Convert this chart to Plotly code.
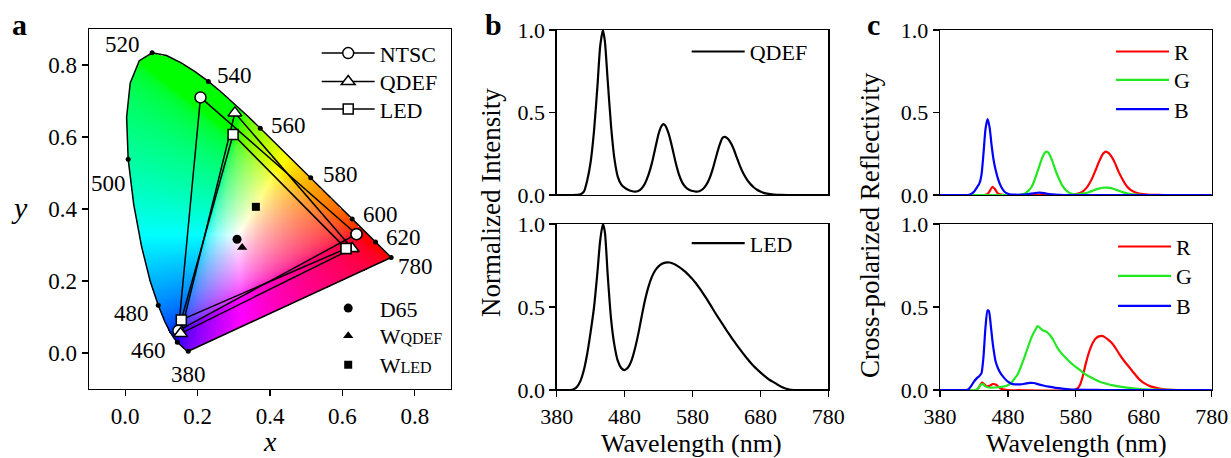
import numpy as np
import plotly.graph_objects as go

W, H = 1231, 458
SERIF = "Liberation Serif"

# ---------------- data: panel a (CIE 1931) ----------------
LOCUS_NM = [380, 385, 390, 395, 400, 405, 410, 415, 420, 425, 430, 435, 440, 445, 450, 455,
            460, 465, 470, 475, 480, 485, 490, 495, 500, 505, 510, 515, 520, 525, 530, 535,
            540, 545, 550, 555, 560, 565, 570, 575, 580, 585, 590, 595, 600, 605, 610, 615,
            620, 625, 630, 635, 640, 645, 650, 655, 660, 665, 670, 680, 690, 700, 780]
LOCUS_X = [0.1741, 0.1740, 0.1738, 0.1736, 0.1733, 0.1730, 0.1726, 0.1721, 0.1714, 0.1703,
           0.1689, 0.1669, 0.1644, 0.1611, 0.1566, 0.1510, 0.1440, 0.1355, 0.1241, 0.1096,
           0.0913, 0.0687, 0.0454, 0.0235, 0.0082, 0.0039, 0.0139, 0.0389, 0.0743, 0.1142,
           0.1547, 0.1929, 0.2296, 0.2658, 0.3016, 0.3373, 0.3731, 0.4087, 0.4441, 0.4788,
           0.5125, 0.5448, 0.5752, 0.6029, 0.6270, 0.6482, 0.6658, 0.6801, 0.6915, 0.7006,
           0.7079, 0.7140, 0.7190, 0.7230, 0.7260, 0.7283, 0.7300, 0.7311, 0.7320, 0.7334,
           0.7344, 0.7347, 0.7347]
LOCUS_Y = [0.0050, 0.0050, 0.0049, 0.0049, 0.0048, 0.0048, 0.0048, 0.0048, 0.0051, 0.0058,
           0.0069, 0.0086, 0.0109, 0.0138, 0.0177, 0.0227, 0.0297, 0.0399, 0.0578, 0.0868,
           0.1327, 0.2007, 0.2950, 0.4127, 0.5384, 0.6548, 0.7502, 0.8120, 0.8338, 0.8262,
           0.8059, 0.7816, 0.7543, 0.7243, 0.6923, 0.6589, 0.6245, 0.5896, 0.5547, 0.5202,
           0.4866, 0.4544, 0.4242, 0.3965, 0.3725, 0.3514, 0.3340, 0.3197, 0.3083, 0.2993,
           0.2920, 0.2859, 0.2809, 0.2770, 0.2740, 0.2717, 0.2700, 0.2689, 0.2680, 0.2666,
           0.2656, 0.2653, 0.2653]
LABEL_NM = [380, 460, 480, 500, 520, 540, 560, 580, 600, 620, 780]
LABEL_TX = [0.175, 0.064, 0.017, -0.047, -0.008, 0.303, 0.450, 0.594, 0.706, 0.769, 0.803]
LABEL_TY = [-0.061, 0.008, 0.111, 0.471, 0.856, 0.770, 0.632, 0.496, 0.385, 0.321, 0.241]

GAMUT_NAMES = ["NTSC", "QDEF", "LED"]
GAMUT_X = [[0.639, 0.208, 0.147], [0.627, 0.303, 0.153], [0.610, 0.298, 0.155]]
GAMUT_Y = [[0.330, 0.710, 0.062], [0.290, 0.667, 0.054], [0.290, 0.607, 0.092]]
GAMUT_SYMBOL = ["circle", "triangle-up", "square"]

WP_NAMES = ["D65", "W<span style='font-size:16px'>QDEF</span>", "W<span style='font-size:16px'>LED</span>"]
WP_X = [0.309, 0.323, 0.361]
WP_Y = [0.316, 0.293, 0.406]
WP_SYMBOL = ["circle", "triangle-up", "square"]

# ---------------- data: panel b (spectra) ----------------
QDEF_NM = [380, 400, 410, 415, 420, 425, 430, 435, 440, 444, 448, 451, 455, 460, 465, 470, 475,
           480, 485, 490, 495, 500, 505, 510, 515, 520, 525, 530, 534, 537, 540, 545, 550, 555,
           560, 565, 570, 575, 580, 585, 590, 595, 600, 605, 610, 615, 620, 624, 627, 631, 635,
           640, 645, 650, 655, 660, 665, 670, 675, 680, 685, 690, 700, 710, 720, 780]
QDEF_I = [0, 0, 0.001, 0.004, 0.02, 0.09, 0.2, 0.39, 0.66, 0.9, 1.0, 0.93, 0.7, 0.42, 0.22, 0.11,
          0.065, 0.045, 0.032, 0.024, 0.02, 0.024, 0.04, 0.07, 0.12, 0.19, 0.28, 0.37, 0.415,
          0.43, 0.42, 0.37, 0.29, 0.2, 0.125, 0.075, 0.047, 0.032, 0.024, 0.021, 0.023, 0.035,
          0.06, 0.1, 0.16, 0.235, 0.305, 0.345, 0.352, 0.345, 0.325, 0.285, 0.23, 0.175, 0.13,
          0.095, 0.068, 0.047, 0.032, 0.021, 0.013, 0.008, 0.003, 0.001, 0, 0]

LED_NM = [380, 400, 405, 410, 415, 420, 425, 430, 435, 440, 444, 448, 451, 455, 460, 465, 470,
          475, 480, 485, 490, 495, 500, 505, 510, 515, 520, 525, 530, 535, 540, 546, 550, 555,
          560, 565, 570, 575, 580, 585, 590, 595, 600, 605, 610, 615, 620, 625, 630, 635, 640,
          645, 650, 655, 660, 665, 670, 675, 680, 685, 690, 695, 700, 705, 710, 715, 720, 725,
          730, 780]
LED_I = [0, 0, 0.005, 0.02, 0.055, 0.12, 0.22, 0.35, 0.5, 0.71, 0.9, 1.0, 0.95, 0.7, 0.43, 0.27,
         0.175, 0.133, 0.12, 0.135, 0.175, 0.245, 0.335, 0.44, 0.54, 0.62, 0.68, 0.72, 0.745,
         0.76, 0.767, 0.768, 0.764, 0.755, 0.742, 0.727, 0.71, 0.69, 0.668, 0.643, 0.615,
         0.585, 0.555, 0.522, 0.488, 0.455, 0.423, 0.392, 0.36, 0.33, 0.3, 0.272, 0.245, 0.218,
         0.192, 0.167, 0.145, 0.125, 0.106, 0.088, 0.072, 0.057, 0.046, 0.033, 0.021, 0.012,
         0.005, 0.001, 0, 0]

# ---------------- data: panel c (reflectivity) ----------------
R1_NM = [380, 445, 450, 454, 457.5, 461, 465, 470, 475, 570, 578, 585, 590, 595, 600, 605, 610,
         615, 620, 624, 628, 633, 638, 643, 648, 653, 658, 663, 668, 675, 685, 700, 710, 780]
R1_V = [0, 0, 0.005, 0.03, 0.05, 0.035, 0.01, 0.002, 0, 0, 0.003, 0.01, 0.02, 0.04, 0.07, 0.11,
        0.16, 0.21, 0.25, 0.263, 0.255, 0.23, 0.19, 0.14, 0.1, 0.065, 0.04, 0.025, 0.015, 0.007,
        0.003, 0.001, 0, 0]
G1_NM = [380, 495, 500, 505, 510, 515, 520, 525, 530, 534, 537, 540, 545, 550, 555, 560, 565,
         570, 575, 580, 585, 590, 595, 600, 605, 610, 615, 620, 625, 630, 635, 640, 645, 650,
         655, 660, 670, 680, 780]
G1_V = [0, 0, 0.003, 0.01, 0.025, 0.05, 0.1, 0.16, 0.22, 0.255, 0.263, 0.255, 0.21, 0.15, 0.1,
        0.058, 0.03, 0.014, 0.006, 0.004, 0.005, 0.008, 0.012, 0.018, 0.026, 0.034, 0.04, 0.044,
        0.045, 0.043, 0.038, 0.031, 0.023, 0.016, 0.01, 0.006, 0.002, 0, 0]
B1_NM = [380, 420, 425, 430, 435, 438, 441, 444, 447, 450, 453, 456, 459, 462, 466, 470, 475,
         480, 485, 490, 500, 510, 520, 527, 535, 545, 555, 570, 780]
B1_V = [0, 0, 0.005, 0.02, 0.05, 0.07, 0.12, 0.25, 0.4, 0.46, 0.41, 0.3, 0.21, 0.15, 0.09, 0.05,
        0.02, 0.008, 0.003, 0.002, 0.002, 0.006, 0.012, 0.014, 0.01, 0.004, 0.001, 0, 0]

R2_NM = [380, 434, 437, 440, 442, 445, 449, 453, 458, 462, 466, 470, 475, 480, 578, 582, 586,
         590, 595, 600, 605, 610, 614, 618, 622, 627, 632, 638, 645, 652, 660, 667, 674, 680,
         690, 700, 710, 720, 730, 780]
R2_V = [0, 0, 0.015, 0.035, 0.044, 0.035, 0.022, 0.025, 0.036, 0.033, 0.02, 0.008, 0.002, 0, 0,
        0.008, 0.03, 0.08, 0.165, 0.235, 0.285, 0.313, 0.323, 0.326, 0.32, 0.305, 0.287, 0.255,
        0.21, 0.17, 0.13, 0.095, 0.062, 0.043, 0.022, 0.011, 0.004, 0.001, 0, 0]
G2_NM = [380, 432, 436, 440, 443, 447, 452, 460, 470, 478, 484, 490, 495, 500, 505, 510, 515,
         520, 523.8, 527, 531, 537, 542, 547, 552, 558, 566, 575, 586, 595, 605, 615, 625, 635,
         645, 655, 665, 675, 690, 710, 730, 780]
G2_V = [0, 0, 0.01, 0.032, 0.035, 0.022, 0.015, 0.015, 0.018, 0.025, 0.04, 0.07, 0.1, 0.15,
        0.205, 0.265, 0.32, 0.36, 0.385, 0.375, 0.36, 0.35, 0.33, 0.3, 0.26, 0.225, 0.19, 0.155,
        0.12, 0.092, 0.07, 0.05, 0.038, 0.028, 0.02, 0.014, 0.01, 0.006, 0.003, 0.001, 0, 0]
B2_NM = [380, 418, 422, 426, 430, 434, 438, 441, 444, 447, 450, 452, 455, 458, 462, 466, 470,
         475, 480, 485, 490, 498, 505, 512, 518, 525, 532, 540, 550, 560, 570, 580, 600, 620, 780]
B2_V = [0, 0, 0.005, 0.025, 0.05, 0.07, 0.085, 0.1, 0.2, 0.38, 0.48, 0.475, 0.38, 0.27, 0.17,
        0.125, 0.095, 0.07, 0.05, 0.038, 0.034, 0.034, 0.038, 0.043, 0.042, 0.034, 0.027, 0.02,
        0.013, 0.008, 0.004, 0.002, 0.001, 0, 0]

WL_TICKS = [380, 480, 580, 680, 780]
I_TICKS = [0.0, 0.5, 1.0]
CIE_TICKS = [0.0, 0.2, 0.4, 0.6, 0.8]


# ---------------- helpers ----------------
def px_x(p):
    return p / W


def px_y(p):
    return 1 - p / H


def inside_poly(px, py, vx, vy):
    res = np.zeros(px.shape, dtype=bool)
    n = len(vx)
    j = n - 1
    for i in range(n):
        xi, yi, xj, yj = vx[i], vy[i], vx[j], vy[j]
        cond = (yi > py) != (yj > py)
        denom = (yj - yi) if (yj - yi) != 0 else 1e-12
        xint = (xj - xi) * (py - yi) / denom + xi
        res ^= cond & (px < xint)
        j = i
    return res


# chromaticity background image
step = 0.0025
gx = np.arange(0.0, 0.745, step) + step / 2
gy = np.arange(0.0, 0.84, step) + step / 2
GX, GY = np.meshgrid(gx, gy)
mask = inside_poly(GX, GY, LOCUS_X, LOCUS_Y)
Xc = GX / GY
Zc = (1 - GX - GY) / GY
M = np.array([[3.2406, -1.5372, -0.4986], [-0.9689, 1.8758, 0.0415], [0.0557, -0.2040, 1.0570]])
rgb = np.stack([M[k, 0] * Xc + M[k, 1] + M[k, 2] * Zc for k in range(3)], axis=-1)
rgb = np.clip(rgb, 0, None)
rgb = rgb / np.maximum(rgb.max(axis=-1, keepdims=True), 1e-9)
rgb = np.clip(rgb, 0, 1) ** (1 / 2.2)
rgb8 = np.round(rgb * 255).astype(int)
rgb8[~mask] = 0
alpha = mask.astype(int)
rgba = np.concatenate([rgb8, alpha[..., None]], axis=-1)

fig = go.Figure()

fig.add_trace(go.Image(z=rgba.tolist(), colormodel="rgba", x0=float(gx[0]), y0=float(gy[0]),
                       dx=step, dy=step, xaxis="x", yaxis="y", hoverinfo="skip"))

# locus outline
fig.add_trace(go.Scatter(x=LOCUS_X + [LOCUS_X[0]], y=LOCUS_Y + [LOCUS_Y[0]], mode="lines",
                         line=dict(color="black", width=1.5), showlegend=False,
                         xaxis="x", yaxis="y", hoverinfo="skip"))
# labelled wavelength dots
lab_x = [LOCUS_X[LOCUS_NM.index(n)] for n in LABEL_NM]
lab_y = [LOCUS_Y[LOCUS_NM.index(n)] for n in LABEL_NM]
fig.add_trace(go.Scatter(x=lab_x, y=lab_y, mode="markers", marker=dict(color="black", size=5),
                         showlegend=False, xaxis="x", yaxis="y", hoverinfo="skip"))

legend_cfg = {}
leg_i = [0]


def new_legend(xp, yp, iw=53):
    leg_i[0] += 1
    name = "legend" if leg_i[0] == 1 else "legend%d" % leg_i[0]
    legend_cfg[name] = dict(x=px_x(xp), y=px_y(yp), xanchor="left", yanchor="middle",
                            bgcolor="rgba(0,0,0,0)", borderwidth=0, itemwidth=iw,
                            font=dict(family=SERIF, size=22, color="black"),
                            itemclick=False, itemdoubleclick=False)
    return name


gamut_rows = [53.3, 81.7, 109.3]
for k in range(3):
    lg = new_legend(316.7, gamut_rows[k])
    msize = {"circle": 11, "triangle-up": 12, "square": 10}[GAMUT_SYMBOL[k]]
    fig.add_trace(go.Scatter(
        x=GAMUT_X[k] + [GAMUT_X[k][0]], y=GAMUT_Y[k] + [GAMUT_Y[k][0]], mode="lines+markers",
        name=GAMUT_NAMES[k], legend=lg,
        line=dict(color="black", width=1.5),
        marker=dict(symbol=GAMUT_SYMBOL[k], size=msize, color="white",
                    line=dict(color="black", width=1.5)),
        xaxis="x", yaxis="y"))

wp_rows = [308.3, 336.0, 365.0]
for k in range(3):
    lg = new_legend(316.7, wp_rows[k])
    fig.add_trace(go.Scatter(
        x=[WP_X[k]], y=[WP_Y[k]], mode="markers", name=WP_NAMES[k], legend=lg,
        marker=dict(symbol=WP_SYMBOL[k], size=9 if k != 2 else 8, color="black"),
        xaxis="x", yaxis="y"))

# panel b
lg = new_legend(686.7, 51.7)
fig.add_trace(go.Scatter(x=QDEF_NM, y=QDEF_I, mode="lines", name="QDEF", legend=lg,
                         line=dict(color="black", width=2.2, shape="spline", smoothing=0.6),
                         xaxis="x2", yaxis="y2"))
lg = new_legend(686.7, 243.3)
fig.add_trace(go.Scatter(x=LED_NM, y=LED_I, mode="lines", name="LED", legend=lg,
                         line=dict(color="black", width=2.2, shape="spline", smoothing=0.6),
                         xaxis="x3", yaxis="y3"))

# panel c
RED, GREEN, BLUE = "#ff0000", "#22e822", "#0000ff"
top_rows = [51.7, 80.0, 109.3]
bot_rows = [246.7, 276.0, 306.0]
for (nm, v, col, nmz, row) in [(R1_NM, R1_V, RED, "R", top_rows[0]),
                               (G1_NM, G1_V, GREEN, "G", top_rows[1]),
                               (B1_NM, B1_V, BLUE, "B", top_rows[2])]:
    lg = new_legend(1111, row)
    fig.add_trace(go.Scatter(x=nm, y=v, mode="lines", name=nmz, legend=lg,
                             line=dict(color=col, width=2.2, shape="spline", smoothing=0.6),
                             xaxis="x4", yaxis="y4"))
for (nm, v, col, nmz, row) in [(R2_NM, R2_V, RED, "R", bot_rows[0]),
                               (G2_NM, G2_V, GREEN, "G", bot_rows[1]),
                               (B2_NM, B2_V, BLUE, "B", bot_rows[2])]:
    lg = new_legend(1113, row)
    fig.add_trace(go.Scatter(x=nm, y=v, mode="lines", name=nmz, legend=lg,
                             line=dict(color=col, width=2.2, shape="spline", smoothing=0.6),
                             xaxis="x5", yaxis="y5"))

tickfont = dict(family=SERIF, size=22, color="black")
base_ax = dict(showgrid=False, zeroline=False, showline=True, mirror=True, linecolor="black",
               linewidth=1.3, ticks="outside", ticklen=6, tickwidth=1.3, tickcolor="black",
               tickfont=tickfont, fixedrange=True, automargin=False)

dom_a_x = [px_x(89), px_x(451)]
dom_a_y = [px_y(389), px_y(29)]
dom_b_x = [px_x(556.7), px_x(828.3)]
dom_c_x = [px_x(940), px_x(1211.7)]
dom_top = [px_y(195), px_y(30)]
dom_bot = [px_y(390), px_y(224)]

layout = dict(
    width=W, height=H, margin=dict(l=0, r=0, t=0, b=0, autoexpand=False),
    paper_bgcolor="white", plot_bgcolor="white",
    xaxis=dict(base_ax, domain=dom_a_x, range=[-0.1, 0.9], tickvals=CIE_TICKS,
               ticktext=["%.1f" % t for t in CIE_TICKS], anchor="y", scaleanchor=False,
               autorange=False, tickfont=dict(family=SERIF, size=23, color="black")),
    yaxis=dict(base_ax, domain=dom_a_y, range=[-0.1, 0.9], tickvals=CIE_TICKS,
               ticktext=["%.1f" % t for t in CIE_TICKS], anchor="x", scaleanchor=False,
               autorange=False, tickfont=dict(family=SERIF, size=23, color="black")),
    xaxis2=dict(base_ax, domain=dom_b_x, range=[380, 780], anchor="y2", ticks="",
                showticklabels=False),
    yaxis2=dict(base_ax, domain=dom_top, range=[0, 1], tickvals=I_TICKS,
                ticktext=["%.1f" % t for t in I_TICKS], anchor="x2"),
    xaxis3=dict(base_ax, domain=dom_b_x, range=[380, 780], anchor="y3", tickvals=WL_TICKS),
    yaxis3=dict(base_ax, domain=dom_bot, range=[0, 1], tickvals=I_TICKS,
                ticktext=["%.1f" % t for t in I_TICKS], anchor="x3"),
    xaxis4=dict(base_ax, domain=dom_c_x, range=[380, 780], anchor="y4", ticks="",
                showticklabels=False),
    yaxis4=dict(base_ax, domain=dom_top, range=[0, 1], tickvals=I_TICKS,
                ticktext=["%.1f" % t for t in I_TICKS], anchor="x4"),
    xaxis5=dict(base_ax, domain=dom_c_x, range=[380, 780], anchor="y5", tickvals=WL_TICKS),
    yaxis5=dict(base_ax, domain=dom_bot, range=[0, 1], tickvals=I_TICKS,
                ticktext=["%.1f" % t for t in I_TICKS], anchor="x5"),
    hovermode=False,
)
layout.update(legend_cfg)
fig.update_layout(**layout)

ann = []
# wavelength labels on locus
for nmv, tx, ty in zip(LABEL_NM, LABEL_TX, LABEL_TY):
    ann.append(dict(x=tx, y=ty, xref="x", yref="y", text=str(nmv), showarrow=False,
                    font=dict(family=SERIF, size=23, color="black"),
                    xanchor="center", yanchor="middle"))

# panel letters
for txt, xp, yp in [("a", 20, 25), ("b", 493, 25), ("c", 873, 25)]:
    ann.append(dict(x=px_x(xp), y=px_y(yp), xref="paper", yref="paper", text="<b>%s</b>" % txt,
                    showarrow=False, font=dict(family=SERIF, size=30, color="black"),
                    xanchor="center", yanchor="middle"))

# axis titles
ann.append(dict(x=px_x(270), y=px_y(441), xref="paper", yref="paper", text="<i>x</i>",
                showarrow=False, font=dict(family=SERIF, size=28, color="black"),
                xanchor="center", yanchor="middle", borderpad=0))
ann.append(dict(x=px_x(20), y=px_y(208), xref="paper", yref="paper", text="<i>y</i>",
                showarrow=False, font=dict(family=SERIF, size=30, color="black"),
                xanchor="center", yanchor="middle"))
ann.append(dict(x=px_x(491), y=px_y(203), xref="paper", yref="paper", text="Normalized Intensity",
                showarrow=False, textangle=-90, font=dict(family=SERIF, size=27, color="black"),
                xanchor="center", yanchor="middle"))
ann.append(dict(x=px_x(870), y=px_y(225), xref="paper", yref="paper",
                text="Cross-polarized Reflectivity", showarrow=False, textangle=-90,
                font=dict(family=SERIF, size=27, color="black"), xanchor="center", yanchor="middle"))
for xc in (691.5, 1076):
    ann.append(dict(x=px_x(xc), y=px_y(443), xref="paper", yref="paper", text="Wavelength (nm)",
                    showarrow=False, font=dict(family=SERIF, size=26, color="black"),
                    xanchor="center", yanchor="middle"))

fig.update_layout(annotations=ann)
fig.write_html("out.html", config={"displayModeBar": False, "staticPlot": True},
               post_script="document.body.style.margin='0px';document.body.style.padding='0px';"
                           "document.body.style.overflow='hidden';")
